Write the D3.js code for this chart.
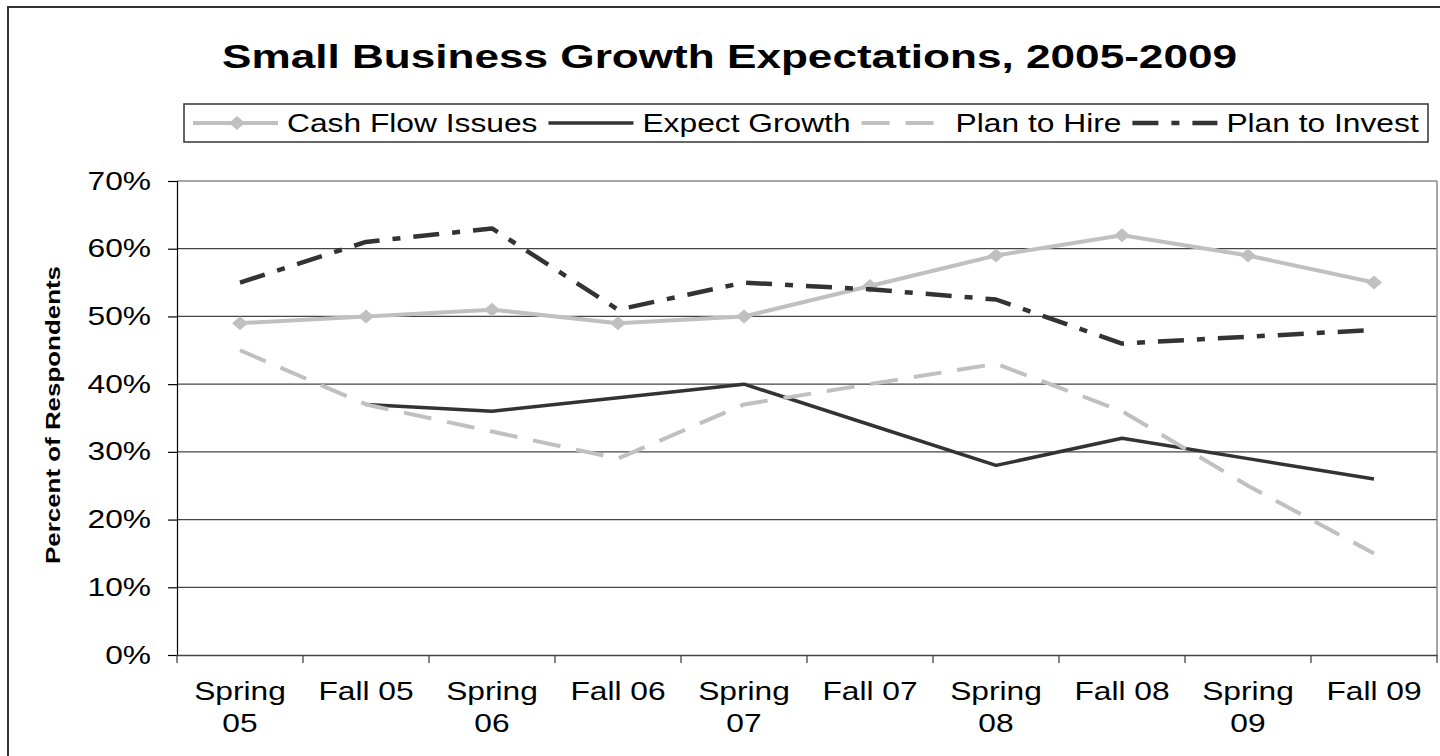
<!DOCTYPE html>
<html>
<head>
<meta charset="utf-8">
<script src="https://cdn.jsdelivr.net/npm/d3@7"></script>
<style>
  body { margin: 0; background: #fff; }
  svg { display: block; }
  text { font-family: Arial, "Liberation Sans", sans-serif; fill: #000; }
</style>
</head>
<body>
<svg id="chart" width="1440" height="756"></svg>
<script>
const categories = ["Spring 05", "Fall 05", "Spring 06", "Fall 06", "Spring 07",
                    "Fall 07", "Spring 08", "Fall 08", "Spring 09", "Fall 09"];
const cashFlow     = [49, 50, 51, 49, 50, 54.5, 59, 62, 59, 55];
const expectGrowth = [null, 37, 36, 38, 40, 34, 28, 32, 29, 26];
const planToHire   = [45, 37, 33, 29, 37, 40, 43, 36, 25, 15];
const planToInvest = [55, 61, 63, 51, 55, 54, 52.5, 46, 47, 48];
const yTicks = [0, 10, 20, 30, 40, 50, 60, 70];

// text in the picture is drawn a bit wide, so stretch it sideways
const K = 1.27;
const FS = 25;

const series = [
  { name: "Cash Flow Issues", values: cashFlow,     color: "#c0c0c0", width: 4,   dash: null,          marker: true },
  { name: "Expect Growth",    values: expectGrowth, color: "#333333", width: 3.5, dash: null,          marker: false },
  { name: "Plan to Hire",     values: planToHire,   color: "#c0c0c0", width: 4,   dash: "28,16",       marker: false },
  { name: "Plan to Invest",   values: planToInvest, color: "#333333", width: 4.5, dash: "26,13,8,13",  marker: false }
];

const svg = d3.select("#chart");
const plotL = 177, plotR = 1437, plotT = 181, plotB = 655;

// outer frame
svg.append("rect").attr("x", 8).attr("y", 7).attr("width", 1460).attr("height", 780)
  .attr("fill", "none").attr("stroke", "#333").attr("stroke-width", 2);

const x = d3.scaleBand().domain(categories).range([plotL, plotR]).padding(0);
const y = d3.scaleLinear().domain([0, 70]).range([plotB, plotT]);
const cx = c => x(c) + x.bandwidth() / 2;

// title
svg.append("text")
  .attr("x", 222).attr("y", 68)
  .attr("font-size", 33).attr("font-weight", "bold")
  .attr("textLength", 1015).attr("lengthAdjust", "spacingAndGlyphs")
  .text("Small Business Growth Expectations, 2005-2009");

// gridlines
svg.append("g").selectAll("line").data(yTicks.filter(d => d > 0)).join("line")
  .attr("x1", plotL).attr("x2", plotR)
  .attr("y1", d => y(d)).attr("y2", d => y(d))
  .attr("stroke", d => d === 70 ? "#888" : "#444").attr("stroke-width", 1.3);

// right border of plot area
svg.append("line").attr("x1", plotR).attr("x2", plotR).attr("y1", plotT).attr("y2", plotB)
  .attr("stroke", "#888").attr("stroke-width", 1.5);

// y axis
const yAxis = svg.append("g").attr("transform", `translate(${plotL},0)`)
  .call(d3.axisLeft(y).tickValues(yTicks).tickFormat(d => d + "%").tickSize(9).tickPadding(17));
yAxis.select(".domain").attr("stroke", "#000").attr("stroke-width", 1.2);
yAxis.selectAll(".tick line").attr("stroke", "#000").attr("stroke-width", 1.2);
yAxis.selectAll(".tick text")
  .attr("font-size", FS).attr("font-family", null)
  .attr("x", -26 / K).attr("transform", `scale(${K},1)`);

// x axis
const xAxis = svg.append("g").attr("transform", `translate(0,${plotB})`)
  .call(d3.axisBottom(x).tickSize(0).tickPadding(0));
xAxis.select(".domain").attr("stroke", "#444").attr("stroke-width", 1.5);
xAxis.selectAll(".tick text")
  .attr("font-size", FS).attr("font-family", null)
  .attr("transform", `scale(${K},1)`)
  .attr("y", 45).attr("dy", null)
  .each(function (d) {
    const t = d3.select(this);
    t.text(null);
    const parts = d.startsWith("Spring") ? d.split(" ") : [d];
    parts.forEach((p, i) => t.append("tspan").attr("x", 0).attr("dy", i === 0 ? 0 : 32).text(p));
  });
// boundary tick marks
const bounds = categories.map(c => x(c)).concat([plotR]);
svg.append("g").selectAll("line").data(bounds).join("line")
  .attr("x1", d => d).attr("x2", d => d)
  .attr("y1", plotB).attr("y2", plotB + 8)
  .attr("stroke", "#444").attr("stroke-width", 1.3);

// axis title
svg.append("text")
  .attr("transform", `translate(60,415) rotate(-90)`)
  .attr("text-anchor", "middle")
  .attr("font-size", 21).attr("font-weight", "bold")
  .attr("textLength", 298).attr("lengthAdjust", "spacingAndGlyphs")
  .text("Percent of Respondents");

// lines
const diamond = (px, py) => `M${px - 8},${py}L${px},${py - 7}L${px + 8},${py}L${px},${py + 7}Z`;

series.forEach(s => {
  const line = d3.line()
    .defined(d => d[1] != null)
    .x(d => cx(d[0])).y(d => y(d[1]));
  svg.append("path")
    .datum(categories.map((c, i) => [c, s.values[i]]))
    .attr("d", line)
    .attr("fill", "none")
    .attr("stroke", s.color).attr("stroke-width", s.width)
    .attr("stroke-dasharray", s.dash)
    .attr("stroke-linejoin", "round");
  if (s.marker) {
    svg.append("g").selectAll("path")
      .data(categories.map((c, i) => [c, s.values[i]]))
      .join("path")
      .attr("d", d => diamond(cx(d[0]), y(d[1])))
      .attr("fill", s.color);
  }
});

// legend
const legend = svg.append("g");
legend.append("rect").attr("x", 184).attr("y", 104).attr("width", 1244).attr("height", 38)
  .attr("fill", "#fff").attr("stroke", "#333").attr("stroke-width", 1.5);
let lx = 193;
const ly = 123;
series.forEach(s => {
  legend.append("line")
    .attr("x1", lx).attr("x2", lx + 85).attr("y1", ly).attr("y2", ly)
    .attr("stroke", s.color).attr("stroke-width", s.width)
    .attr("stroke-dasharray", s.dash);
  if (s.marker) legend.append("path").attr("d", diamond(lx + 44, ly)).attr("fill", s.color);
  const t = legend.append("text")
    .attr("x", (lx + 94) / K).attr("y", ly + 9)
    .attr("transform", `scale(${K},1)`)
    .attr("font-size", FS)
    .text(s.name);
  lx = lx + 94 + t.node().getComputedTextLength() * K + 11;
});
</script>
</body>
</html>
